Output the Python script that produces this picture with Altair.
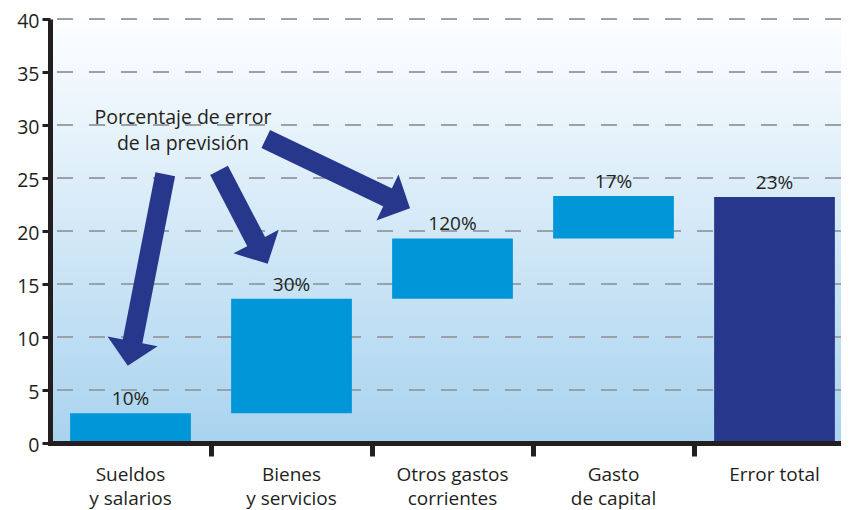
import math
import altair as alt
import pandas as pd

# ---- data ----
categories = ["Sueldos\ny salarios", "Bienes\ny servicios", "Otros gastos\ncorrientes",
              "Gasto\nde capital", "Error total"]
bar_start = [0.0, 2.8, 13.6, 19.3, 0.0]
bar_end = [2.8, 13.6, 19.3, 23.3, 23.2]
pct_labels = ["10%", "30%", "120%", "17%", "23%"]
bar_kind = ["parcial", "parcial", "parcial", "parcial", "total"]
y_ticks = [0, 5, 10, 15, 20, 25, 30, 35, 40]
x_boundaries = [0.5, 1.5, 2.5, 3.5]

note_text = ["Porcentaje de error\nde la previsión"]
note_x = [0.326]
note_y = [30.1]

arrow_tail_x = [0.216, 0.550, 0.840]
arrow_tail_y = [25.35, 25.72, 28.68]
arrow_tip_x = [-0.017, 0.852, 1.736]
arrow_tip_y = [7.28, 16.91, 22.15]

# ---- layout / style ----
W, H = 791, 424
X_DOMAIN = [-0.5, 4.413]
Y_DOMAIN = [0, 40]
BAR_HALF = 0.375
FONT = "Open Sans"
TXT = "#231f20"
NAVY = "#27378c"
LIGHT = "#0096d8"
HEAD_W, HEAD_L = 51, 25

bars_df = pd.DataFrame({
    "pos": list(range(len(categories))),
    "cat": categories,
    "y0": bar_start,
    "y1": bar_end,
    "pct": pct_labels,
    "kind": bar_kind,
})
bars_df["x0"] = bars_df["pos"] - BAR_HALF
bars_df["x1"] = bars_df["pos"] + BAR_HALF

px_x = W / (X_DOMAIN[1] - X_DOMAIN[0])
px_y = H / (Y_DOMAIN[1] - Y_DOMAIN[0])
rows = []
for tx, ty, hx, hy in zip(arrow_tail_x, arrow_tail_y, arrow_tip_x, arrow_tip_y):
    dx = (hx - tx) * px_x
    dy = -(hy - ty) * px_y
    L = math.hypot(dx, dy)
    ux, uy = dx / L, dy / L
    cx = hx - ux * (HEAD_L / 2) / px_x
    cy = hy + uy * (HEAD_L / 2) / px_y
    ang = math.degrees(math.atan2(-dx, dy)) % 360
    rows.append({"tx": tx, "ty": ty, "cx": cx, "cy": cy, "angle": ang})
arrows_df = pd.DataFrame(rows)

note_df = pd.DataFrame({"x": note_x, "y": note_y, "t": note_text})
grid_df = pd.DataFrame({"v": y_ticks[1:]})

xs = alt.Scale(domain=X_DOMAIN, nice=False, zero=False)
ys = alt.Scale(domain=Y_DOMAIN, nice=False)

x_axis = alt.Axis(values=x_boundaries, labels=False, title=None, grid=False,
                  tickSize=13, tickWidth=5, tickColor=TXT, domainWidth=5, domainColor=TXT,
                  domainCap="square", zindex=1)
y_axis = alt.Axis(values=y_ticks, title=None, grid=False, tickSize=8, tickWidth=3, tickColor=TXT,
                  domainWidth=5, domainColor=TXT, labelPadding=3, labelFont=FONT,
                  labelFontSize=19.5, labelColor=TXT, labelOverlap=False, labelOffset=2,
                  zindex=1)


def X(field):
    return alt.X(field, scale=xs, axis=x_axis, title=None)


def Y(field):
    return alt.Y(field, scale=ys, axis=y_axis, title=None)


background = alt.Chart(pd.DataFrame({"a": [0]})).mark_rect(
    color=alt.LinearGradient(
        gradient="linear", x1=0, x2=0, y1=0, y2=1,
        stops=[alt.GradientStop(offset=0, color="#fdfeff"),
               alt.GradientStop(offset=1, color="#a9d3ef")],
    )
).encode(x=alt.value(0), x2=alt.value(W), y=alt.value(0), y2=alt.value(H))

grid = alt.Chart(grid_df).mark_rule(strokeDash=[16, 16], strokeWidth=2, color="#9aa2a9").encode(
    y=Y("v:Q"),
)

bars = alt.Chart(bars_df).mark_rect().encode(
    x=X("x0:Q"),
    x2="x1:Q",
    y=Y("y0:Q"),
    y2="y1:Q",
    color=alt.Color("kind:N", scale=alt.Scale(domain=["parcial", "total"], range=[LIGHT, NAVY]),
                    legend=None),
)

pct = alt.Chart(bars_df).mark_text(font=FONT, fontSize=19, dy=-8, baseline="alphabetic",
                                   color=TXT).encode(
    x=X("pos:Q"),
    y=Y("y1:Q"),
    text="pct:N",
)

cats = alt.Chart(bars_df).mark_text(font=FONT, fontSize=19, baseline="alphabetic", lineBreak="\n",
                                    lineHeight=24, color=TXT).encode(
    x=X("pos:Q"),
    y=alt.value(H + 38),
    text="cat:N",
)

shafts = alt.Chart(arrows_df).mark_rule(strokeWidth=20, strokeCap="butt", color=NAVY).encode(
    x=X("tx:Q"),
    y=Y("ty:Q"),
    x2="cx:Q",
    y2="cy:Q",
)

heads = alt.Chart(arrows_df).mark_point(shape="M-1,-0.49L1,-0.49L0,0.49Z", filled=True,
                                        size=HEAD_W * HEAD_W, opacity=1, color=NAVY,
                                        strokeWidth=0).encode(
    x=X("cx:Q"),
    y=Y("cy:Q"),
    angle=alt.Angle("angle:Q", scale=None),
)

note = alt.Chart(note_df).mark_text(font=FONT, fontSize=19.5, baseline="alphabetic", lineBreak="\n",
                                    lineHeight=26, color=TXT).encode(
    x=X("x:Q"),
    y=Y("y:Q"),
    text="t:N",
)

chart = alt.layer(background, grid, bars, pct, cats, shafts, heads, note).properties(
    width=W, height=H,
    autosize=alt.AutoSizeParams(type="none"),
    padding={"left": 42, "top": 11, "right": 0, "bottom": 70},
    background="white",
).configure_view(stroke=None)

chart.save("out.html", embed_options={"renderer": "svg", "actions": False})
